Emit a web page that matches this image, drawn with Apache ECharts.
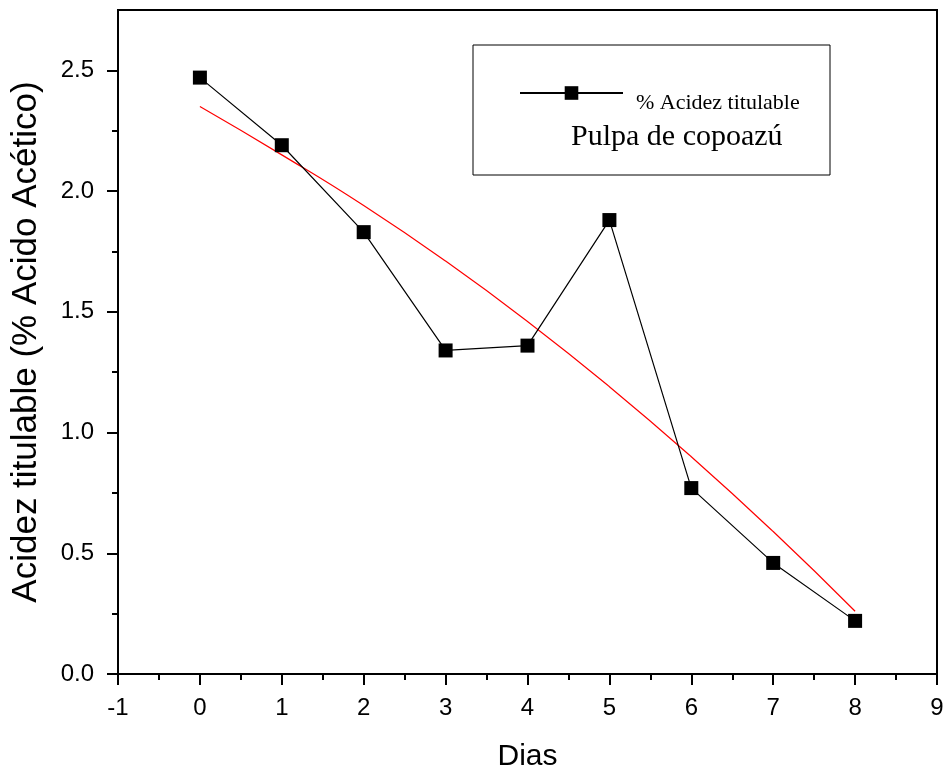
<!DOCTYPE html>
<html>
<head>
<meta charset="utf-8">
<script src="https://cdn.jsdelivr.net/npm/echarts@6/dist/echarts.min.js"></script>
<style>
  html, body { margin: 0; padding: 0; background: #fff; }
  #chart { width: 946px; height: 773px; }
</style>
</head>
<body>
<div id="chart"></div>
<script>
// dias de almacenamiento
const dias = [0, 1, 2, 3, 4, 5, 6, 7, 8];
// % acidez titulable medida
const acidez = [2.47, 2.19, 1.83, 1.34, 1.36, 1.88, 0.77, 0.46, 0.22];
// curva de ajuste
const ajuste = [2.35, 2.15, 1.94, 1.71, 1.46, 1.19, 0.90, 0.59, 0.26];

const xTicks = [-1, 0, 1, 2, 3, 4, 5, 6, 7, 8, 9];
const xMinorTicks = [-0.5, 0.5, 1.5, 2.5, 3.5, 4.5, 5.5, 6.5, 7.5, 8.5];
const yTicks = [0, 0.5, 1.0, 1.5, 2.0, 2.5];
const yMinorTicks = [0.25, 0.75, 1.25, 1.75, 2.25];

const serieName = '% Acidez titulable';

const chart = echarts.init(document.getElementById('chart'));

const labelFont = { color: '#000', fontFamily: 'Liberation Sans', fontSize: 24 };
const tickLine = { color: '#000', width: 2 };

// eje solo con marcas (sin linea ni etiquetas)
function tickAxis(kind, min, max, values, len) {
  return {
    type: 'value',
    position: kind === 'x' ? 'bottom' : 'left',
    min: min,
    max: max,
    axisLine: { show: false, onZero: false },
    axisTick: { show: true, length: len, customValues: values, lineStyle: tickLine },
    axisLabel: { show: false },
    splitLine: { show: false }
  };
}

const option = {
  animation: false,
  backgroundColor: '#fff',
  grid: {
    left: 118,
    right: 9,
    top: 10,
    bottom: 99,
    outerBoundsMode: 'none',
    show: true,
    borderColor: '#000',
    borderWidth: 2,
    backgroundColor: 'transparent'
  },
  legend: {
    data: [serieName],
    left: 514,
    top: 67,
    itemWidth: 103,
    itemHeight: 17,
    // texto un poco mas abajo que la linea, como en el original
    formatter: name => '\n' + name,
    textStyle: {
      color: '#000',
      fontFamily: 'Liberation Serif',
      fontSize: 22,
      lineHeight: 20,
      padding: [0, 0, 0, 8]
    }
  },
  graphic: [
    {
      type: 'rect',
      shape: { x: 473, y: 45, width: 357, height: 130 },
      style: { fill: 'transparent', stroke: '#000', lineWidth: 1 },
      z: 0
    },
    {
      type: 'text',
      x: 571,
      y: 137,
      style: {
        text: 'Pulpa de copoazú',
        fill: '#000',
        font: '30px "Liberation Serif"',
        verticalAlign: 'middle'
      }
    }
  ],
  xAxis: [
    {
      type: 'value',
      min: -1,
      max: 9,
      interval: 1,
      name: 'Dias',
      nameLocation: 'middle',
      nameGap: 68,
      nameTextStyle: { color: '#000', fontFamily: 'Liberation Sans', fontSize: 30 },
      axisLine: { show: true, onZero: false, lineStyle: { color: '#000', width: 2 } },
      axisTick: { show: false },
      axisLabel: Object.assign({ margin: 22 }, labelFont),
      splitLine: { show: false }
    },
    tickAxis('x', -1, 9, xTicks, 11),
    tickAxis('x', -1, 9, xMinorTicks, 6)
  ],
  yAxis: [
    {
      type: 'value',
      min: 0,
      max: 2.75,
      name: 'Acidez titulable (% Acido Acético)',
      nameLocation: 'middle',
      nameGap: 74,
      nameTextStyle: { color: '#000', fontFamily: 'Liberation Sans', fontSize: 35 },
      axisLine: { show: true, onZero: false, lineStyle: { color: '#000', width: 2 } },
      axisTick: { show: false },
      axisLabel: Object.assign({
        margin: 24,
        customValues: yTicks,
        formatter: v => v.toFixed(1)
      }, labelFont),
      splitLine: { show: false }
    },
    tickAxis('y', 0, 2.75, yTicks, 11),
    tickAxis('y', 0, 2.75, yMinorTicks, 6)
  ],
  series: [
    {
      name: 'ajuste',
      type: 'line',
      data: dias.map((d, i) => [d, ajuste[i]]),
      smooth: true,
      showSymbol: false,
      lineStyle: { color: '#ff0000', width: 1.2 },
      z: 2
    },
    {
      name: serieName,
      type: 'line',
      data: dias.map((d, i) => [d, acidez[i]]),
      symbol: 'rect',
      symbolSize: 14,
      itemStyle: { color: '#000' },
      lineStyle: { color: '#000', width: 1.2 },
      z: 3
    }
  ]
};

chart.setOption(option);
</script>
</body>
</html>
